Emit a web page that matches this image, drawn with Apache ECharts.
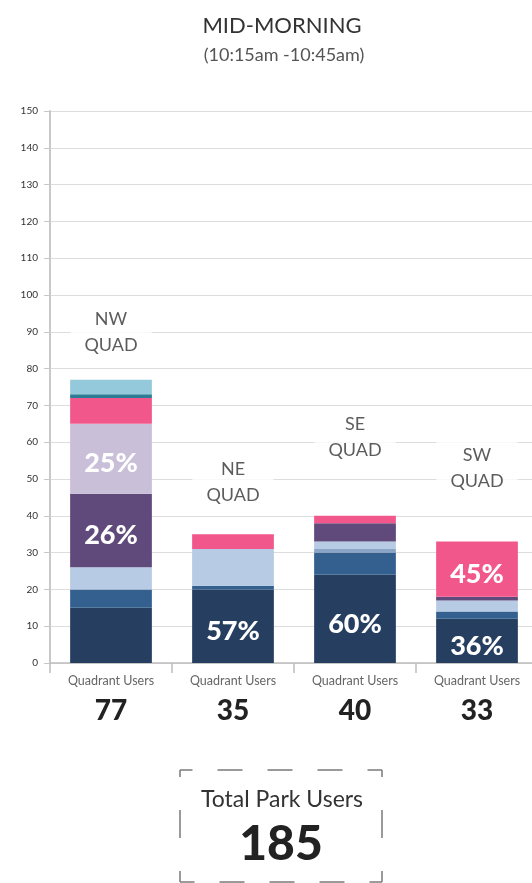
<!DOCTYPE html>
<html>
<head>
<meta charset="utf-8">
<script src="https://cdn.jsdelivr.net/npm/echarts@6/dist/echarts.min.js"></script>
<style>
  html, body { margin: 0; padding: 0; background: #ffffff; }
  #chart { width: 532px; height: 883px; }
</style>
</head>
<body>
<div id="chart"></div>
<script>
// Park users by quadrant, mid-morning count, stacked by user group
const quadrants = ['NW', 'NE', 'SE', 'SW'];
const navy      = [15, 20, 24, 12];
const midBlue   = [5, 1, 6, 2];
const steelBlue = [0, 0, 1, 0];
const paleBlue  = [6, 10, 2, 3];
const purple    = [20, 0, 5, 1];
const lavender  = [19, 0, 0, 0];
const pink      = [7, 4, 2, 15];
const teal      = [1, 0, 0, 0];
const skyBlue   = [4, 0, 0, 0];
const yTicks = [0, 10, 20, 30, 40, 50, 60, 70, 80, 90, 100, 110, 120, 130, 140, 150];

// which segments carry a share-of-quadrant label
const shareShown = {
  navy:     [false, true, true, true],
  purple:   [true, false, false, false],
  lavender: [true, false, false, false],
  pink:     [false, false, false, true]
};

const FONT = 'Lato, "Noto Sans", sans-serif';

const groups = [
  { key: 'navy',      data: navy,      color: '#263f60' },
  { key: 'midBlue',   data: midBlue,   color: '#34608f' },
  { key: 'steelBlue', data: steelBlue, color: '#8ba5c7' },
  { key: 'paleBlue',  data: paleBlue,  color: '#b7cbe4' },
  { key: 'purple',    data: purple,    color: '#5f4a7b' },
  { key: 'lavender',  data: lavender,  color: '#c9bfd9' },
  { key: 'pink',      data: pink,      color: '#f2578b' },
  { key: 'teal',      data: teal,      color: '#2d7c96' },
  { key: 'skyBlue',   data: skyBlue,   color: '#93c9da' }
];

const totals = quadrants.map((_, i) => groups.reduce((s, g) => s + g.data[i], 0));
const parkTotal = totals.reduce((a, b) => a + b, 0);

const barSeries = groups.map(g => ({
  name: g.key,
  type: 'bar',
  stack: 'users',
  barWidth: '67%',
  data: g.data,
  itemStyle: { color: g.color },
  label: {
    show: !!shareShown[g.key],
    position: 'inside',
    offset: [0, 5],
    color: '#ffffff',
    fontFamily: FONT,
    fontWeight: 900,
    fontSize: 27,
    formatter: p => {
      const flags = shareShown[g.key];
      if (!flags || !flags[p.dataIndex]) return '';
      return Math.round(p.value / totals[p.dataIndex] * 100) + '%';
    }
  },
  emphasis: { disabled: true }
}));

// quadrant name tags floating above the stacks
const tagSeries = {
  type: 'scatter',
  symbolSize: 0,
  z: 5,
  silent: true,
  data: [[0, 90], [1, 49.2], [2, 61.3], [3, 52.9]],
  label: {
    show: true,
    position: 'inside',
    formatter: p => quadrants[p.dataIndex] + '\nQUAD',
    fontFamily: FONT,
    fontSize: 18,
    lineHeight: 26,
    color: '#333333',
    backgroundColor: '#ffffff',
    padding: [2, 14]
  }
};

const chart = echarts.init(document.getElementById('chart'), null, { renderer: 'canvas' });

const boxL = 180, boxR = 382, boxT = 770, boxB = 882;
const dashStyle = { stroke: '#7a7a7a', lineWidth: 1.5 };

chart.setOption({
  animation: false,
  backgroundColor: '#ffffff',
  title: [
    {
      text: 'MID-MORNING',
      left: 277, top: 10, textAlign: 'center',
      textStyle: { fontFamily: FONT, fontWeight: 'normal', fontSize: 22, color: '#333333' }
    },
    {
      text: '(10:15am -10:45am)',
      left: 279, top: 41, textAlign: 'center',
      textStyle: { fontFamily: FONT, fontWeight: 'normal', fontSize: 18, color: '#555555' }
    }
  ],
  grid: { left: 50, width: 488, top: 111, bottom: 220, containLabel: false, outerBoundsMode: 'none' },
  xAxis: {
    type: 'category',
    data: quadrants,
    axisLine: { lineStyle: { color: '#bdbdbd', width: 1.5 } },
    axisTick: { show: true, length: 10, alignWithLabel: false, lineStyle: { color: '#bdbdbd', width: 1.5 } },
    axisLabel: {
      interval: 0,
      margin: 11,
      formatter: (v, i) => '{a|Quadrant Users}\n{b|' + totals[i] + '}',
      rich: {
        a: { fontFamily: FONT, fontSize: 12.5, color: '#666666', lineHeight: 14 },
        b: { fontFamily: FONT, fontSize: 28, fontWeight: 900, color: '#222222', lineHeight: 46 }
      }
    }
  },
  yAxis: {
    type: 'value',
    min: yTicks[0],
    max: yTicks[yTicks.length - 1],
    interval: yTicks[1] - yTicks[0],
    axisLine: { show: true, lineStyle: { color: '#c8c8c8', width: 2 } },
    axisTick: { show: true, length: 6, lineStyle: { color: '#c8c8c8' } },
    axisLabel: { margin: 12, fontFamily: FONT, fontSize: 10, color: '#333333' },
    splitLine: { lineStyle: { color: '#dddddd', width: 1 } }
  },
  series: [...barSeries, tagSeries],
  graphic: [
    { type: 'line', shape: { x1: boxL, y1: boxT, x2: boxR, y2: boxT }, style: Object.assign({ lineDash: [25, 25], lineDashOffset: 12.5 }, dashStyle) },
    { type: 'line', shape: { x1: boxR, y1: boxB, x2: boxL, y2: boxB }, style: Object.assign({ lineDash: [25, 25], lineDashOffset: 12.5 }, dashStyle) },
    { type: 'line', shape: { x1: boxL, y1: boxT, x2: boxL, y2: boxB }, style: Object.assign({ lineDash: [28, 33], lineDashOffset: 21 }, dashStyle) },
    { type: 'line', shape: { x1: boxR, y1: boxT, x2: boxR, y2: boxB }, style: Object.assign({ lineDash: [28, 33], lineDashOffset: 21 }, dashStyle) },
    {
      type: 'text', x: (boxL + boxR) / 2 + 1, y: 800,
      style: { text: 'Total Park Users', textAlign: 'center', textVerticalAlign: 'middle', fontFamily: FONT, fontSize: 23, fill: '#333333' }
    },
    {
      type: 'text', x: (boxL + boxR) / 2, y: 845,
      style: { text: String(parkTotal), textAlign: 'center', textVerticalAlign: 'middle', fontFamily: FONT, fontSize: 48, fontWeight: 900, fill: '#222222' }
    }
  ]
});
</script>
</body>
</html>
